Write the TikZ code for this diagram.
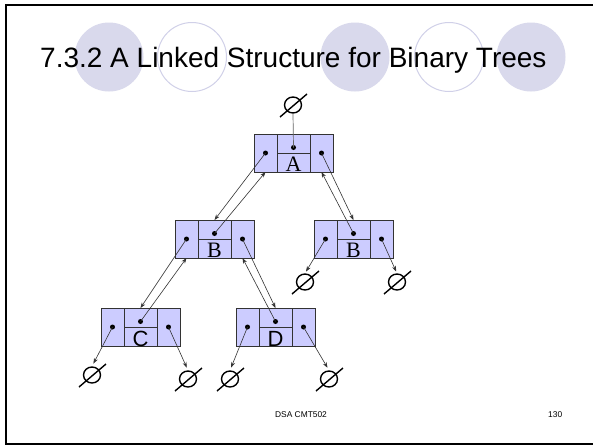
\documentclass[tikz,border=0pt]{standalone}
\usepackage{fontspec}
\setmainfont{Liberation Serif}
\setsansfont{Liberation Sans}
\newfontfamily\labelsans{Liberation Sans}
\newfontfamily\labelserif{Liberation Serif}
\usetikzlibrary{arrows.meta,calc,shapes.geometric}

\definecolor{cellfill}{RGB}{204,204,255}
\definecolor{deco}{RGB}{217,217,236}
\definecolor{decoline}{RGB}{208,208,232}

\tikzset{
  cell/.style={draw=black!80, fill=cellfill, line width=0.9pt, inner sep=0pt, outer sep=0pt},
  ptr/.style={draw=black!80, line width=0.6pt, -{Stealth[length=5.5pt,width=4pt]}},
  nullring/.style={draw, ellipse, line width=1.4pt, inner sep=0pt, minimum width=17pt, minimum height=16pt},
  dotmark/.style={fill=black},
  keytext/.style={inner sep=0pt, font=\fontsize{22}{23}\selectfont},
}

% one tree node: #1 name, (#2,#3) top-left corner, #4 label
\newcommand\treenode[4]{%
  \node[cell, minimum width=23pt, minimum height=38pt, anchor=north west] (#1l) at (#2,#3) {};
  \node[cell, minimum width=33pt, minimum height=19pt, anchor=north west] (#1m) at (#1l.north east) {};
  \node[cell, minimum width=33pt, minimum height=19pt, anchor=north west] (#1v) at (#1m.south west) {};
  \node[cell, minimum width=23pt, minimum height=38pt, anchor=north west] (#1r) at (#1m.north east) {};
  \node[keytext] (#1t) at ($(#1v.center)+(0,2)$) {#4};
  \coordinate (#1dl) at (#1l.center);
  \coordinate (#1dm) at ($(#1m.center)+(0,4)$);
  \coordinate (#1dr) at (#1r.center);
  \fill[dotmark] (#1dl) circle (2.5pt) (#1dm) circle (2.5pt) (#1dr) circle (2.5pt);
}

% empty-pointer symbol: #1 name, (#2,#3) centre
\newcommand\nullsym[3]{%
  \node[nullring] (#1) at (#2,#3) {};
  \draw[line width=1.4pt] ($(#1.center)+(-13,12)$) -- ($(#1.center)+(14,-11)$);
}

\begin{document}
\begin{tikzpicture}[x=1pt, y=-1pt]
\useasboundingbox (0,0) rectangle (593,445);
\clip (0,0) rectangle (593,445);
\fill[white] (0,0) rectangle (593,445);

% slide frame
\draw[line width=2pt] (600,5) -- (6,5) -- (6,443.5) -- (600,443.5);

% title decoration
\fill[deco] (109,57) circle (34.5) (355,57) circle (34.5) (531,57) circle (34.5);
\draw[decoline, line width=1pt] (192,57) circle (34.5) (449,57) circle (34.5);

\node[anchor=base west, inner sep=0pt, font=\sffamily\fontsize{28}{32}\selectfont] (title)
  at (40,67) {7.3.2 A Linked Structure for Binary Trees};

% nodes of the tree
\treenode{a}{254}{134}{\labelserif A}
\treenode{b}{175}{220}{\labelserif B}
\treenode{e}{314}{220}{\labelserif B}
\treenode{c}{101}{308}{\labelsans C}
\treenode{d}{236}{308}{\labelsans D}

% empty pointers
\nullsym{n1}{293}{105}
\nullsym{n2}{305}{282}
\nullsym{n3}{397}{282}
\nullsym{n4}{92}{375}
\nullsym{n5}{188}{379}
\nullsym{n6}{230}{379}
\nullsym{n7}{329}{379}

% parent pointer of the root
\draw[black!60, line width=0.7pt] (adm) -- (n1.south);

% child and parent links
\draw[ptr] (adl) -- (bm.north);
\draw[ptr] (bdm) -- (al.south);
\draw[ptr] (adr) -- (em.north);
\draw[ptr] (edm) -- (ar.south);
\draw[ptr] (bdl) -- (cm.north);
\draw[ptr] (cdm) -- (bl.south);
\draw[ptr] (bdr) -- (dm.north);
\draw[ptr] (ddm) -- (br.south);

% links to empty subtrees
\draw[ptr, shorten >=2pt] (edl) -- (n2.north);
\draw[ptr, shorten >=2pt] (edr) -- (n3.north);
\draw[ptr, shorten >=3pt] (cdl) -- (n4.north);
\draw[ptr, shorten >=3pt] (cdr) -- (n5.north);
\draw[ptr, shorten >=3pt] (ddl) -- (n6.north);
\draw[ptr, shorten >=3pt] (ddr) -- (n7.north);

% footer
\node[anchor=base, inner sep=0pt, font=\sffamily\fontsize{8.4}{10}\selectfont] (foot) at (301,417) {DSA CMT502};
\node[anchor=base west, inner sep=0pt, font=\sffamily\fontsize{8.4}{10}\selectfont] (page) at (548,417) {130};
\end{tikzpicture}
\end{document}
